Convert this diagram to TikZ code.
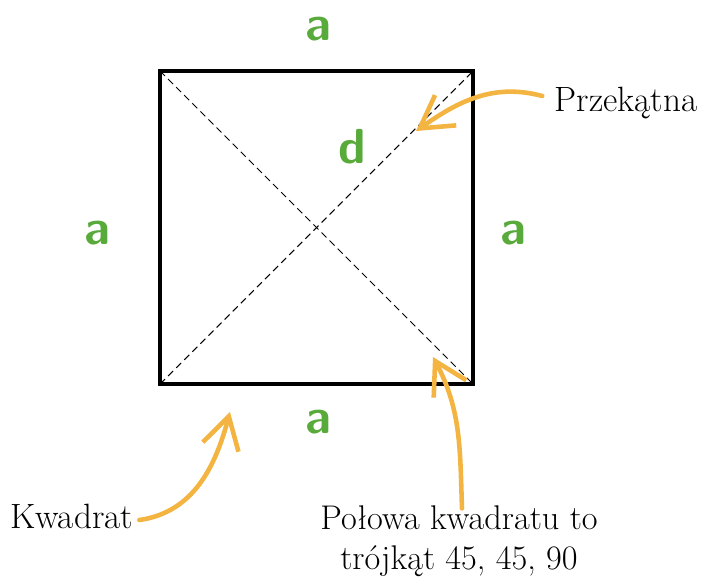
\documentclass[tikz,border=0pt]{standalone}
\usepackage{xcolor}
\usepackage{tikz}
\usetikzlibrary{arrows.meta,
positioning,
calc}

\definecolor{sidegreen}{RGB}{88,170,58}
\definecolor{markorange}{RGB}{243,180,66}

\begin{document}
\begin{tikzpicture}[
x=0.02cm, y=0.02cm,
side/.style={
text=sidegreen,
font=\fontsize{28}{30}\selectfont\sffamily\bfseries,
inner sep=0pt
},
caption/.style={
font=\fontsize{20}{23}\selectfont,
align=center,
inner sep=0pt
},
pointer/.style={
draw=markorange,
line width=2.6pt,
line cap=round,
-{Straight Barb[length=18pt,width=21pt,line width=2.6pt]}
}
]
\useasboundingbox (0,0) rectangle (701,-582);

% corners of the square
\coordinate (tl) at (160,-71);
\coordinate (tr) at (473,-71);
\coordinate (br) at (473,-384);
\coordinate (bl) at (160,-384);

\draw[dashed, dash pattern=on 4pt off 2.5pt, line width=0.6pt] (tl) -- (br);
\draw[dashed, dash pattern=on 4pt off 2.5pt, line width=0.6pt] (bl) -- (tr);
\draw[line width=2pt] (tl) -- (tr) -- (br) -- (bl) -- cycle;

\node[side] (top) at (318,-29) {a};
\node[side] (left) at (97,-233) {a};
\node[side] (right) at (513,-233) {a};
\node[side] (bottom) at (318,-422) {a};
\node[side] (diag) at (352,-147) {d};

\node[caption] (przekatna) at (626,-103) {Przekątna};
\node[caption] (kwadrat) at (72,-516) {Kwadrat};
\node[caption, font=\fontsize{19.5}{22.5}\selectfont] (polowa) at (459,-541) {Połowa kwadratu to\\trójkąt 45, 45, 90};

\coordinate (ontodiag) at (416,-131);
\coordinate (ontosquare) at (230,-412);
\coordinate (ontohalf) at (433,-357);

\draw[pointer] (przekatna.west) ++(-12,7) to[out=165,in=35] (ontodiag);
\draw[pointer] (kwadrat.east) ++(6,-4) to[out=8,in=-105] (ontosquare);
\draw[pointer] (polowa.north) ++(3,-3) to[out=92,in=-62] (ontohalf);

\end{tikzpicture}
\end{document}
